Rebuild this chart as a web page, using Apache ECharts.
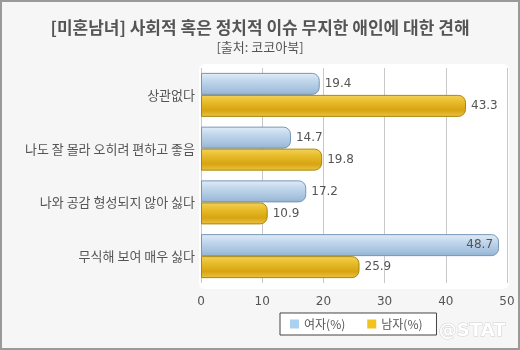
<!DOCTYPE html>
<html><head><meta charset="utf-8">
<script src="https://cdn.jsdelivr.net/npm/echarts@6/dist/echarts.min.js"></script>
<style>
html,body{margin:0;padding:0;background:#f6f6f6;}
#c{width:516px;height:346px;border:2px solid #9a9a9a;}
</style></head>
<body><div id="c"></div>
<script>
const categories = ['상관없다','나도 잘 몰라 오히려 편하고 좋음','나와 공감 형성되지 않아 싫다','무식해 보여 매우 싫다'];
const female = [19.4, 14.7, 17.2, 48.7];
const male = [43.3, 19.8, 10.9, 25.9];
const seriesNames = ['여자(%)','남자(%)'];
const xTicks = [0, 10, 20, 30, 40, 50];

const font = '"Noto Sans CJK KR", sans-serif';
const numFont = '"DejaVu Sans", sans-serif';
const chart = echarts.init(document.getElementById('c'));
const blueGrad = new echarts.graphic.LinearGradient(0,0,0,1,[
  {offset:0,color:'#e2edf8'},{offset:0.35,color:'#c2d7ec'},{offset:0.75,color:'#a7c3df'},{offset:1,color:'#94b3d2'}]);
const goldGrad = new echarts.graphic.LinearGradient(0,0,0,1,[
  {offset:0,color:'#f3d35c'},{offset:0.3,color:'#e9bd2c'},{offset:0.7,color:'#d8a412'},{offset:1,color:'#ecc443'}]);
chart.setOption({
  backgroundColor:'#f6f6f6',
  animation:false,
  color:['#acd0ef','#f2c21e'],
  title:[{text:'[미혼남녀] 사회적 혹은 정치적 이슈 무지한 애인에 대한 견해',left:'center',top:12,
    textStyle:{fontFamily:font,fontSize:17,fontWeight:'bold',color:'#555'}},
    {text:'[출처: 코코아북]',left:'center',top:34,textStyle:{fontFamily:font,fontSize:13,fontWeight:'normal',color:'#555'}}],
  graphic:[
    {type:'rect',left:197,top:62,z:-1,shape:{width:310,height:225,r:6},style:{fill:'#ffffff'}},
    {type:'text',right:12,bottom:7,style:{text:'@STAT',fontFamily:'DejaVu Sans',fontWeight:'bold',fontSize:18,
      fill:'#ffffff',stroke:'#d0d0d0',lineWidth:1,shadowColor:'rgba(0,0,0,0.35)',shadowBlur:3}}
  ],
  legend:{data:[{name:seriesNames[0],itemStyle:{color:'#acd0ef',borderWidth:0}},{name:seriesNames[1],itemStyle:{color:'#f2c21e',borderWidth:0}}],
    bottom:13,left:278,icon:'rect',itemWidth:9,itemHeight:9,itemGap:22,
    borderColor:'#444',borderWidth:1,padding:[5,14,5,10],backgroundColor:'#fff',
    textStyle:{fontFamily:font,fontSize:12,color:'#555'}},
  grid:{left:199,width:306,top:66,height:215},
  xAxis:{type:'value',min:0,max:50,interval:10,
    axisLine:{show:false},axisTick:{show:false},
    axisLabel:{fontFamily:numFont,fontSize:12,color:'#555',margin:13,
      formatter:v=>xTicks.includes(v)?String(v):''},
    splitLine:{lineStyle:{color:'#c8c8c8'}}},
  yAxis:{type:'category',data:categories,inverse:true,
    axisLine:{show:false},axisTick:{show:false},
    axisLabel:{fontFamily:font,fontSize:13,color:'#555',margin:6}},
  series:[
    {name:seriesNames[0],type:'bar',data:female.map(v=>({value:v,label:v>45?{position:'insideRight',distance:6}:{}})),
      barWidth:22,barGap:'0%',
      itemStyle:{color:blueGrad,borderColor:'#7696b6',borderWidth:1,borderRadius:[0,7,7,0]},
      label:{show:true,position:'right',distance:5,fontFamily:numFont,fontSize:12,color:'#555'}},
    {name:seriesNames[1],type:'bar',data:male,barWidth:22,barGap:'0%',
      itemStyle:{color:goldGrad,borderColor:'#a8860e',borderWidth:1,borderRadius:[0,7,7,0]},
      label:{show:true,position:'right',distance:5,fontFamily:numFont,fontSize:12,color:'#555'}}
  ]
});
</script></body></html>
